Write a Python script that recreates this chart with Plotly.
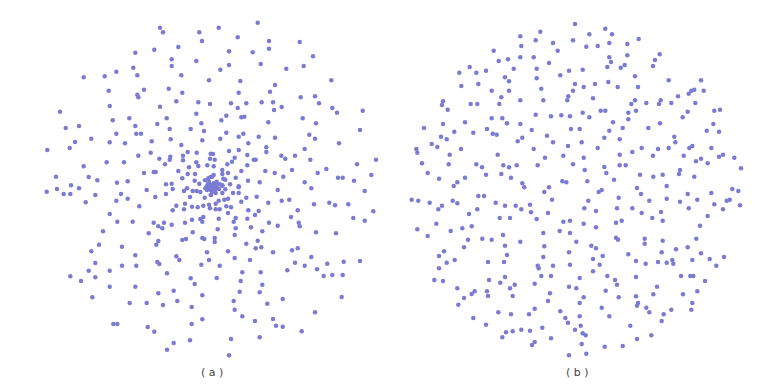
import plotly.graph_objects as go

# Panel (a): point positions (x, y) (pixel-like units, y downwards)
a_x = [160.0,163.0,199.3,202.0,178.3,154.3,135.3,171.7,196.3,171.7,133.3,116.3,83.7,104.7,137.3,181.3,209.0,168.7,144.0,108.7,
       182.3,137.3,138.3,176.3,198.3,210.0,109.7,160.0,60.0,196.3,129.3,166.7,112.7,201.3,157.3,79.0,135.3,65.7,169.7,190.7,
       204.0,116.3,136.3,141.0,91.3,170.7,202.3,75.0,109.7,125.0,151.7,181.3,69.7,47.3,187.7,196.7,150.7,138.3,170.3,159.3,
       183.0,210.7,169.7,183.0,210.0,106.7,124.0,165.0,196.3,83.7,189.0,198.3,207.3,178.3,153.7,155.7,144.0,187.7,195.0,56.0,
       88.7,182.3,210.7,97.3,117.0,127.7,194.7,205.0,208.3,71.0,166.0,171.7,199.3,
       257.7,218.7,237.7,269.0,299.7,269.0,229.0,252.7,313.0,229.0,260.7,303.7,286.3,220.3,331.3,240.3,275.0,270.0,238.7,300.7,
       315.0,231.0,246.3,261.7,273.0,319.0,281.7,237.7,332.3,274.0,337.0,362.7,226.3,241.3,244.3,302.7,221.3,268.3,316.0,360.0,
       226.3,243.3,238.7,258.7,275.0,309.3,315.0,220.3,248.3,339.0,266.3,304.7,229.0,238.7,266.3,213.0,247.3,281.3,295.0,234.7,
       285.3,310.3,253.7,255.7,376.0,214.7,232.0,227.3,247.3,357.0,213.7,222.3,241.3,265.3,292.0,326.3,228.0,222.3,274.7,317.7,
       213.7,212.0,371.3,235.7,223.3,225.3,283.3,338.0,342.7,354.0,216.7,213.7,219.7,248.0,259.7,304.7,230.0,222.3,238.7,
       46.7,57.0,63.7,70.3,79.0,95.3,85.7,121.0,116.3,127.7,146.7,166.0,172.7,155.3,139.3,184.0,187.0,192.7,196.7,200.3,
       205.3,206.7,209.0,210.7,204.7,190.0,210.7,176.3,185.0,192.0,197.7,203.3,209.0,210.0,172.7,184.0,109.7,203.3,200.3,202.3,
       192.0,185.0,117.3,132.7,153.7,164.0,158.3,162.3,171.7,103.0,148.7,192.7,202.3,204.3,182.3,186.0,158.3,156.3,99.0,122.0,
       91.3,207.0,135.3,176.3,179.3,209.0,95.3,157.3,159.3,122.0,136.3,201.3,88.7,109.7,167.0,70.3,95.3,190.7,81.0,194.7,
       109.7,135.3,173.7,158.3,202.3,92.3,177.3,129.7,146.7,163.0,191.7,202.3,113.3,117.3,191.7,147.7,154.3,190.0,173.7,167.0,
       212.0,214.7,216.7,211.3,213.7,222.3,238.7,225.3,215.7,222.3,233.0,238.7,211.0,277.7,311.3,364.7,218.7,224.3,228.0,215.7,
       241.3,246.3,256.7,268.3,281.7,289.3,314.0,329.3,335.0,348.3,373.3,226.3,231.0,215.7,219.7,228.0,248.3,258.7,255.0,297.7,
       218.7,235.7,247.3,233.7,291.0,353.3,364.7,269.0,277.7,298.7,299.7,217.7,235.7,251.0,262.3,316.0,336.0,234.7,214.7,214.7,
       257.7,246.3,255.7,261.3,273.0,292.0,297.7,228.0,234.7,250.0,311.3,295.0,304.7,327.3,343.7,360.0,219.7,242.3,260.7,287.3,
       317.0,323.7,332.3,342.7,216.7,240.7,262.3,239.7,259.7,341.7,282.7,233.7,267.3,234.7,315.0,242.3,255.0,273.0,276.0,282.7,
       301.7,231.0,259.7,229.0,
       208.0,211.0,214.0,209.0,217.0,212.0,207.0,215.0,219.0]
a_y = [27.7,32.3,32.3,41.0,47.0,49.7,52.7,59.3,61.0,66.0,67.7,71.7,77.3,76.3,75.3,75.3,80.3,88.7,89.7,90.7,
       92.7,94.7,97.3,101.3,102.3,104.0,106.0,106.7,111.7,113.7,118.3,118.3,120.3,123.3,124.0,126.0,126.0,128.0,129.0,129.0,
       131.0,133.7,133.7,133.7,138.7,139.3,140.3,142.0,142.3,143.3,141.3,145.0,148.0,150.0,152.0,152.7,152.7,155.7,156.7,158.7,
       155.7,153.7,159.7,160.3,158.7,162.3,162.3,164.3,162.3,166.3,167.3,166.0,165.3,171.0,172.0,172.0,173.0,174.0,174.0,176.7,
       177.0,178.3,177.0,180.3,182.7,181.3,180.7,180.3,178.3,185.3,184.3,183.7,183.7,
       22.7,27.7,37.3,41.0,42.0,48.7,51.3,52.3,56.3,65.0,64.0,66.0,68.7,69.7,80.3,81.0,85.0,91.7,92.7,97.3,
       96.3,103.3,103.3,102.3,102.3,103.3,107.0,108.0,108.0,110.0,112.7,110.7,115.7,117.3,116.7,118.3,120.3,122.3,123.3,130.0,
       132.7,133.7,136.7,136.7,137.7,134.7,138.7,138.7,143.3,143.3,147.3,149.0,151.0,150.0,152.0,154.0,155.0,155.7,155.7,157.7,
       158.7,159.7,159.7,159.7,159.7,159.7,161.7,164.3,165.3,164.3,166.3,170.0,171.0,171.0,170.0,169.0,173.0,174.0,173.0,173.0,
       175.0,176.7,175.0,177.7,178.7,179.7,176.7,177.7,177.7,180.7,181.7,183.3,184.3,180.7,182.3,182.3,184.3,185.3,186.3,
       191.7,189.0,194.0,194.0,188.3,195.0,202.3,194.0,200.7,198.7,190.0,194.0,189.0,197.0,206.3,191.0,188.3,191.0,191.0,192.0,
       188.3,186.3,187.7,190.0,197.7,197.0,195.0,205.7,203.7,206.7,207.3,205.7,204.7,208.3,210.3,209.3,214.0,217.0,219.0,221.7,
       219.7,222.7,221.7,221.7,222.7,222.7,226.3,228.3,224.7,231.3,233.3,232.3,238.0,239.0,240.0,239.0,241.0,244.7,244.7,246.7,
       251.3,252.3,255.3,256.3,260.0,260.0,263.0,262.0,264.0,265.7,265.7,264.7,270.7,270.7,273.3,276.3,277.3,278.3,281.0,284.0,
       286.7,286.7,290.7,293.3,295.3,297.3,301.0,303.0,303.0,305.0,307.0,319.3,324.0,324.0,324.0,327.0,331.7,340.3,343.0,349.7,
       187.0,188.3,188.3,189.7,191.0,185.7,187.3,189.3,193.0,193.0,193.0,193.0,195.0,190.0,188.3,191.0,200.7,199.7,198.7,203.7,
       201.7,197.7,196.7,202.7,200.7,199.7,204.3,202.7,205.3,204.3,211.3,206.3,207.3,209.3,209.3,213.0,210.3,211.0,215.0,210.3,
       218.7,218.0,218.7,221.7,217.0,218.0,220.7,222.7,225.7,222.7,226.3,229.3,228.3,227.3,231.3,232.3,233.3,235.0,238.0,242.0,
       240.7,243.7,248.3,247.3,252.3,250.3,248.3,251.3,258.0,260.0,257.0,262.7,265.7,263.7,261.7,261.0,265.7,272.3,272.3,270.3,
       269.3,276.0,275.0,275.0,278.0,281.0,284.7,291.7,292.3,297.0,299.0,301.0,303.7,309.7,312.3,316.3,321.0,319.0,325.7,326.7,
       331.3,339.0,337.3,355.3,
       184.0,185.0,186.0,182.0,185.0,192.0,190.0,190.0,189.0]

# Panel (b): point positions
b_x = [575.0,540.3,520.3,535.7,573.0,553.0,521.3,557.7,493.7,520.3,533.7,508.0,498.7,549.0,469.7,513.7,536.7,486.0,569.0,459.3,
       476.3,560.3,505.0,536.7,509.0,478.3,575.0,461.3,541.3,491.7,509.0,573.0,568.3,501.3,443.0,520.3,543.3,567.3,442.0,470.7,
       477.3,499.3,447.7,535.7,551.0,561.3,570.0,491.7,502.3,465.0,443.0,507.0,520.3,424.0,487.0,531.7,571.0,454.3,473.3,492.7,
       496.7,441.0,547.0,446.7,522.3,517.7,553.0,431.7,437.3,416.3,461.0,533.7,568.0,417.3,449.7,497.7,563.3,545.0,422.0,448.7,
       476.3,503.3,516.7,537.7,573.0,482.0,509.0,427.7,486.0,501.3,439.0,465.0,511.0,457.3,522.3,562.3,566.3,
       605.3,589.3,612.0,638.7,609.3,627.3,586.3,597.7,659.7,609.3,627.3,655.0,611.0,607.3,620.7,624.7,653.0,582.7,635.0,668.7,
       701.0,608.3,583.7,595.0,617.7,638.0,691.3,694.3,688.7,703.7,678.0,593.0,635.0,660.7,631.3,646.3,659.0,671.3,695.3,600.7,
       605.3,636.0,582.7,628.3,687.7,714.3,720.0,589.3,628.3,682.7,613.0,660.0,713.3,579.7,609.3,622.7,648.3,706.7,719.0,604.3,
       619.7,674.3,581.7,675.3,597.7,641.7,658.0,668.7,689.3,692.3,711.3,632.3,619.7,653.0,683.7,723.0,719.0,734.3,583.7,701.0,
       696.0,707.7,619.7,625.7,604.3,741.0,584.7,680.0,606.3,679.0,640.0,653.3,662.7,694.3,614.0,587.3,
       453.7,524.3,549.0,544.3,411.7,418.3,429.7,452.7,457.3,478.3,484.0,495.7,505.0,515.7,530.0,552.0,442.0,438.3,477.3,521.3,
       531.0,548.0,469.0,499.7,510.0,536.7,563.3,570.0,436.3,417.3,450.7,462.3,471.7,427.7,503.0,543.3,559.7,570.0,468.0,482.3,
       491.7,520.3,576.3,505.0,544.3,464.0,444.0,439.0,507.0,543.3,569.0,454.7,446.7,488.0,504.0,537.7,538.7,553.0,570.0,439.0,
       541.3,551.0,505.0,434.3,443.0,489.0,500.3,514.7,534.7,510.0,569.0,576.3,457.3,474.7,471.7,487.0,488.0,512.7,550.0,464.0,
       548.0,458.3,534.7,498.3,511.0,529.0,560.3,565.3,473.3,568.0,486.0,542.3,575.0,521.3,530.0,512.7,506.0,502.3,551.0,534.7,
       532.0,569.0,
       666.7,637.0,598.7,601.7,641.0,618.7,588.3,649.3,666.7,687.7,711.3,732.3,738.3,680.0,697.3,726.7,729.7,714.3,740.0,584.3,
       596.0,617.0,632.3,688.7,723.0,641.7,661.0,707.7,652.3,583.7,616.0,621.7,662.7,700.0,596.0,616.0,618.0,644.7,644.7,662.7,
       696.3,591.3,596.0,676.0,687.7,661.7,628.3,701.0,602.7,593.0,636.0,658.0,666.7,672.3,673.3,692.3,709.7,724.0,599.7,645.7,
       716.3,593.0,607.3,636.0,681.0,690.3,693.3,579.7,615.0,705.0,617.0,657.0,605.7,697.3,653.3,683.0,583.7,618.7,636.0,579.7,
       638.0,637.0,692.3,601.7,646.3,671.3,691.3,649.3,663.7,579.7,609.3,661.7,580.7,630.3,582.7,585.7,651.3,637.0,581.7,604.7,
       622.7,586.3]
b_y = [24.0,31.7,36.3,40.3,40.3,43.0,46.0,50.7,50.7,57.3,57.3,59.3,61.0,63.0,67.0,68.7,68.7,70.7,70.7,72.7,
       72.7,75.3,77.3,78.3,81.3,84.0,84.0,86.0,88.7,90.7,90.7,90.7,96.3,97.3,101.3,100.3,100.3,100.3,105.0,104.0,
       104.0,104.0,109.7,114.7,116.3,115.3,116.3,118.3,118.3,122.3,124.0,123.3,124.0,128.0,129.0,130.0,129.0,131.7,132.7,133.7,
       134.7,136.7,135.7,139.3,137.7,141.3,142.3,144.0,147.0,149.0,149.0,149.0,146.0,152.7,154.7,154.7,155.7,157.7,163.3,164.3,
       164.3,165.3,165.3,165.3,164.3,167.3,167.3,173.0,174.7,174.0,178.7,177.7,177.7,182.3,183.3,181.3,182.3,
       28.7,34.3,34.3,39.0,43.0,44.0,46.7,46.0,54.3,57.3,55.3,60.0,62.0,67.0,67.7,65.0,66.0,69.7,76.3,80.3,
       80.3,82.0,87.0,84.0,87.0,87.0,90.7,89.7,93.7,90.7,96.3,98.3,100.3,100.3,104.0,103.0,104.0,103.0,103.0,110.7,
       110.7,110.7,112.7,112.7,111.7,110.7,109.7,117.3,119.3,117.3,122.3,123.3,124.0,129.0,130.7,128.0,128.0,130.7,131.7,137.7,
       139.3,136.7,142.3,142.3,148.0,148.0,149.0,148.0,148.0,146.0,148.0,152.0,154.7,155.7,155.7,154.7,156.7,157.7,157.7,158.7,
       161.3,163.3,165.3,165.3,167.0,168.3,170.0,170.0,173.0,174.0,174.7,176.7,174.7,176.7,179.7,181.3,
       186.0,187.3,187.3,192.0,199.7,200.7,202.7,200.7,203.3,196.0,196.0,202.7,205.7,205.7,204.7,199.7,205.7,209.3,209.3,209.3,
       212.3,213.0,214.0,218.0,218.0,219.0,221.7,220.7,223.7,229.3,231.0,228.3,226.3,236.0,235.0,233.0,231.0,233.0,239.7,238.7,
       239.7,241.7,241.7,245.7,246.3,247.3,251.3,256.0,255.0,257.0,252.3,260.0,262.7,262.0,262.0,265.7,268.3,265.7,264.7,268.3,
       276.0,276.0,277.0,280.0,281.0,280.0,282.7,284.7,283.7,288.3,286.7,288.3,288.3,291.3,294.0,291.3,296.0,296.0,293.3,298.0,
       301.0,304.7,308.7,312.3,314.3,314.3,311.3,318.0,318.0,322.7,324.7,327.7,329.7,329.7,330.7,331.3,332.3,337.3,338.3,342.0,
       345.0,355.3,
       186.0,188.0,192.0,190.0,194.0,197.7,200.7,200.7,198.7,194.0,193.0,189.0,191.0,201.7,199.7,200.7,199.7,204.3,205.3,208.3,
       211.0,208.3,208.3,208.3,209.3,213.0,212.0,216.0,218.0,223.7,222.7,220.7,220.7,225.7,227.3,237.7,239.7,238.7,243.7,240.7,
       238.7,245.7,248.3,249.3,247.3,252.3,254.3,253.3,256.0,259.0,261.0,262.0,262.7,260.0,263.7,260.0,259.0,257.0,264.7,263.7,
       265.7,271.3,276.0,277.0,276.0,276.0,276.0,278.0,280.0,281.0,284.7,286.7,290.7,291.3,294.3,294.3,297.3,297.3,296.3,303.0,
       303.0,305.7,303.0,307.7,307.7,309.7,309.7,312.3,314.3,316.3,316.3,321.0,325.7,325.7,333.3,335.3,335.3,339.0,344.0,346.7,
       346.0,353.7]

panel_labels = ["( a )", "( b )"]
label_x = [212, 577]

dot_color = "#7b7bd3"

fig = go.Figure()
fig.add_trace(go.Scatter(x=a_x, y=a_y, mode="markers",
                         marker=dict(size=4.5, color=dot_color, line=dict(width=0)),
                         hoverinfo="skip", showlegend=False))
fig.add_trace(go.Scatter(x=b_x, y=b_y, mode="markers",
                         marker=dict(size=4.5, color=dot_color, line=dict(width=0)),
                         hoverinfo="skip", showlegend=False))

for t, lx in zip(panel_labels, label_x):
    fig.add_annotation(x=lx, y=372, text=t, showarrow=False, xref="x", yref="y",
                       font=dict(family="DejaVu Sans", size=11, color="#444444"))

fig.update_layout(
    width=767, height=390,
    margin=dict(l=0, r=0, t=0, b=0),
    paper_bgcolor="white", plot_bgcolor="white",
    xaxis=dict(range=[0, 767], visible=False, fixedrange=True),
    yaxis=dict(range=[390, 0], visible=False, fixedrange=True),
)

fig.write_html("out.html")
